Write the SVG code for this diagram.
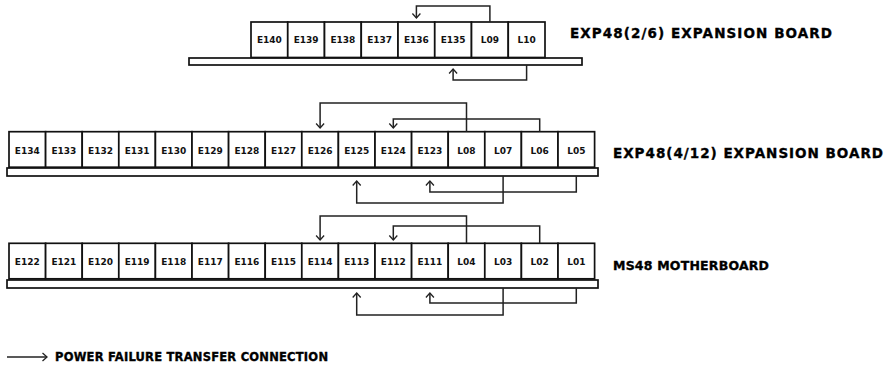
<svg xmlns="http://www.w3.org/2000/svg" width="890" height="370" viewBox="0 0 890 370">
<style>
.bg{fill:#fff}
.box{fill:#fff;stroke:#111;stroke-width:1.7}
.bar{fill:#fff;stroke:#111;stroke-width:1.7}
.lbl{font-family:"DejaVu Sans",sans-serif;font-weight:bold;font-size:9px;fill:#111;text-anchor:middle}
.title{font-family:"DejaVu Sans",sans-serif;font-weight:bold;font-size:13.5px;fill:#000;stroke:#000;stroke-width:0.35}
.small{font-size:12.5px}
.leg{font-size:11.5px}
.con{fill:none;stroke:#222;stroke-width:1.5;marker-end:url(#ah)}
</style>
<defs>
<marker id="ah" viewBox="-6 -5 7 10" markerWidth="7" markerHeight="10" refX="0" refY="0" orient="auto" markerUnits="userSpaceOnUse">
<path d="M-4.5,-4 L0,0 L-4.5,4" fill="none" stroke="#222" stroke-width="1.3"/>
</marker>
</defs>
<rect class="bg" x="0" y="0" width="890" height="370"/>

<g id="board-exp48-2-6">
<rect class="bar" x="189" y="58" width="393" height="7"/>
<g id="slot-E140"><rect class="box" x="251" y="22" width="36.75" height="35.5"/><text class="lbl" x="269.4" y="43">E140</text></g>
<g id="slot-E139"><rect class="box" x="287.75" y="22" width="36.75" height="35.5"/><text class="lbl" x="306.1" y="43">E139</text></g>
<g id="slot-E138"><rect class="box" x="324.5" y="22" width="36.75" height="35.5"/><text class="lbl" x="342.9" y="43">E138</text></g>
<g id="slot-E137"><rect class="box" x="361.25" y="22" width="36.75" height="35.5"/><text class="lbl" x="379.6" y="43">E137</text></g>
<g id="slot-E136"><rect class="box" x="398" y="22" width="36.75" height="35.5"/><text class="lbl" x="416.4" y="43">E136</text></g>
<g id="slot-E135"><rect class="box" x="434.75" y="22" width="36.75" height="35.5"/><text class="lbl" x="453.1" y="43">E135</text></g>
<g id="slot-L09"><rect class="box" x="471.5" y="22" width="36.75" height="35.5"/><text class="lbl" x="489.9" y="43">L09</text></g>
<g id="slot-L10"><rect class="box" x="508.25" y="22" width="36.75" height="35.5"/><text class="lbl" x="526.6" y="43">L10</text></g>
<text class="title" x="570" y="38" textLength="262" lengthAdjust="spacing">EXP48(2/6) EXPANSION BOARD</text>
</g>

<g id="board-exp48-4-12">
<rect class="bar" x="7" y="168" width="591" height="8"/>
<g id="slot-E134"><rect class="box" x="9" y="131.7" width="36.6" height="35.5"/><text class="lbl" x="27.3" y="153.5">E134</text></g>
<g id="slot-E133"><rect class="box" x="45.6" y="131.7" width="36.6" height="35.5"/><text class="lbl" x="63.9" y="153.5">E133</text></g>
<g id="slot-E132"><rect class="box" x="82.2" y="131.7" width="36.6" height="35.5"/><text class="lbl" x="100.5" y="153.5">E132</text></g>
<g id="slot-E131"><rect class="box" x="118.8" y="131.7" width="36.6" height="35.5"/><text class="lbl" x="137.1" y="153.5">E131</text></g>
<g id="slot-E130"><rect class="box" x="155.4" y="131.7" width="36.6" height="35.5"/><text class="lbl" x="173.7" y="153.5">E130</text></g>
<g id="slot-E129"><rect class="box" x="192" y="131.7" width="36.6" height="35.5"/><text class="lbl" x="210.3" y="153.5">E129</text></g>
<g id="slot-E128"><rect class="box" x="228.6" y="131.7" width="36.6" height="35.5"/><text class="lbl" x="246.9" y="153.5">E128</text></g>
<g id="slot-E127"><rect class="box" x="265.2" y="131.7" width="36.6" height="35.5"/><text class="lbl" x="283.5" y="153.5">E127</text></g>
<g id="slot-E126"><rect class="box" x="301.8" y="131.7" width="36.6" height="35.5"/><text class="lbl" x="320.1" y="153.5">E126</text></g>
<g id="slot-E125"><rect class="box" x="338.4" y="131.7" width="36.6" height="35.5"/><text class="lbl" x="356.7" y="153.5">E125</text></g>
<g id="slot-E124"><rect class="box" x="375" y="131.7" width="36.6" height="35.5"/><text class="lbl" x="393.3" y="153.5">E124</text></g>
<g id="slot-E123"><rect class="box" x="411.6" y="131.7" width="36.6" height="35.5"/><text class="lbl" x="429.9" y="153.5">E123</text></g>
<g id="slot-L08"><rect class="box" x="448.2" y="131.7" width="36.6" height="35.5"/><text class="lbl" x="466.5" y="153.5">L08</text></g>
<g id="slot-L07"><rect class="box" x="484.8" y="131.7" width="36.6" height="35.5"/><text class="lbl" x="503.1" y="153.5">L07</text></g>
<g id="slot-L06"><rect class="box" x="521.4" y="131.7" width="36.6" height="35.5"/><text class="lbl" x="539.7" y="153.5">L06</text></g>
<g id="slot-L05"><rect class="box" x="558" y="131.7" width="36.6" height="35.5"/><text class="lbl" x="576.3" y="153.5">L05</text></g>
<text class="title" x="613" y="158" textLength="270" lengthAdjust="spacing">EXP48(4/12) EXPANSION BOARD</text>
</g>

<g id="board-ms48">
<rect class="bar" x="7" y="280" width="591" height="8"/>
<g id="slot-E122"><rect class="box" x="9" y="243.3" width="36.6" height="35.5"/><text class="lbl" x="27.3" y="265">E122</text></g>
<g id="slot-E121"><rect class="box" x="45.6" y="243.3" width="36.6" height="35.5"/><text class="lbl" x="63.9" y="265">E121</text></g>
<g id="slot-E120"><rect class="box" x="82.2" y="243.3" width="36.6" height="35.5"/><text class="lbl" x="100.5" y="265">E120</text></g>
<g id="slot-E119"><rect class="box" x="118.8" y="243.3" width="36.6" height="35.5"/><text class="lbl" x="137.1" y="265">E119</text></g>
<g id="slot-E118"><rect class="box" x="155.4" y="243.3" width="36.6" height="35.5"/><text class="lbl" x="173.7" y="265">E118</text></g>
<g id="slot-E117"><rect class="box" x="192" y="243.3" width="36.6" height="35.5"/><text class="lbl" x="210.3" y="265">E117</text></g>
<g id="slot-E116"><rect class="box" x="228.6" y="243.3" width="36.6" height="35.5"/><text class="lbl" x="246.9" y="265">E116</text></g>
<g id="slot-E115"><rect class="box" x="265.2" y="243.3" width="36.6" height="35.5"/><text class="lbl" x="283.5" y="265">E115</text></g>
<g id="slot-E114"><rect class="box" x="301.8" y="243.3" width="36.6" height="35.5"/><text class="lbl" x="320.1" y="265">E114</text></g>
<g id="slot-E113"><rect class="box" x="338.4" y="243.3" width="36.6" height="35.5"/><text class="lbl" x="356.7" y="265">E113</text></g>
<g id="slot-E112"><rect class="box" x="375" y="243.3" width="36.6" height="35.5"/><text class="lbl" x="393.3" y="265">E112</text></g>
<g id="slot-E111"><rect class="box" x="411.6" y="243.3" width="36.6" height="35.5"/><text class="lbl" x="429.9" y="265">E111</text></g>
<g id="slot-L04"><rect class="box" x="448.2" y="243.3" width="36.6" height="35.5"/><text class="lbl" x="466.5" y="265">L04</text></g>
<g id="slot-L03"><rect class="box" x="484.8" y="243.3" width="36.6" height="35.5"/><text class="lbl" x="503.1" y="265">L03</text></g>
<g id="slot-L02"><rect class="box" x="521.4" y="243.3" width="36.6" height="35.5"/><text class="lbl" x="539.7" y="265">L02</text></g>
<g id="slot-L01"><rect class="box" x="558" y="243.3" width="36.6" height="35.5"/><text class="lbl" x="576.3" y="265">L01</text></g>
<text class="title small" x="613" y="270" textLength="156" lengthAdjust="spacing">MS48 MOTHERBOARD</text>
</g>

<g id="connectors">
<path class="con" d="M489.9,22 V6 H416.4 V18"/>
<path class="con" d="M526.6,65 V80 H453.1 V69"/>
<path class="con" d="M466.5,131.7 V103 H320.1 V128"/>
<path class="con" d="M539.7,131.7 V119 H393.3 V128"/>
<path class="con" d="M503.1,176 V203 H356.7 V181"/>
<path class="con" d="M576.3,176 V192 H429.9 V181"/>
<path class="con" d="M466.5,243.3 V216 H320.1 V240"/>
<path class="con" d="M539.7,243.3 V226 H393.3 V240"/>
<path class="con" d="M503.1,288 V315 H356.7 V293"/>
<path class="con" d="M576.3,288 V303 H429.9 V293"/>
</g>

<g id="legend">
<path class="con" d="M7,357 H47"/>
<text class="title leg" x="55" y="361" textLength="273" lengthAdjust="spacing">POWER FAILURE TRANSFER CONNECTION</text>
</g>
</svg>
